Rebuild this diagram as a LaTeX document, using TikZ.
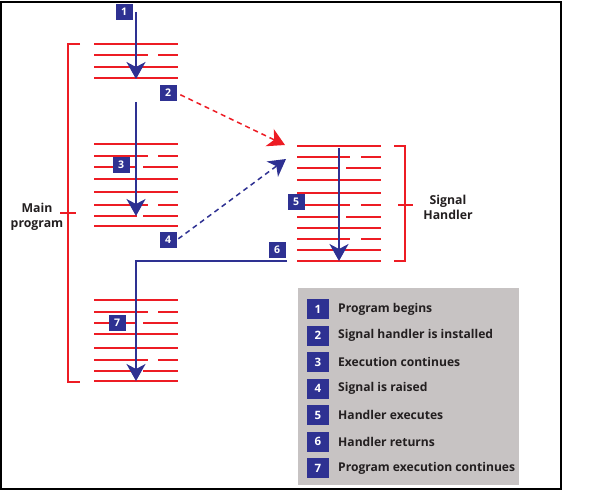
\documentclass[tikz,border=0pt]{standalone}
\usepackage{fontspec}
\setmainfont{Open Sans}
\usetikzlibrary{arrows.meta}
\definecolor{sigred}{HTML}{ED1C24}
\definecolor{sigblue}{HTML}{2E3192}
\definecolor{keygray}{HTML}{C7C3C3}
\definecolor{keyink}{HTML}{231F20}
\tikzset{
	num/.style={fill=sigblue,text=white,font=\bfseries\fontsize{10.5}{10}\selectfont,minimum width=17pt,minimum height=16pt,inner sep=0pt},
	keynum/.style={num,minimum width=22pt,minimum height=20pt,font=\bfseries\fontsize{11.5}{11}\selectfont},
	keytext/.style={anchor=west,inner sep=0pt,text=keyink,font=\bfseries\fontsize{12.1}{12}\selectfont},
	side/.style={align=center,text=keyink,font=\bfseries\fontsize{12.3}{15}\selectfont},
	codeline/.style={sigred,line width=2pt},
	flow/.style={sigblue,line width=1.5pt,-{Stealth[length=17pt,width=19pt,inset=5pt]}},
	signal/.style={flow,dash pattern=on 5pt off 4pt}
}
\begin{document}
\begin{tikzpicture}[x=1pt,y=-1pt]
	\useasboundingbox (0,0) rectangle (615,492);
	\draw[line width=1.5pt] (1,2) rectangle (561,489);

	\foreach \y in {44,67,78,144,179,192,226,300,334,348,381}
		\draw[codeline] (94,\y) -- (178,\y);
	\foreach \y in {55,156,205,312,360}
		\draw[codeline] (94,\y) -- (148,\y) (158,\y) -- (178,\y);
	\foreach \y in {167,216,323,371}
		\draw[codeline] (94,\y) -- (137,\y) (143,\y) -- (178,\y);
	\foreach \y in {146,180,193,228,250,261}
		\draw[codeline] (297,\y) -- (381,\y);
	\foreach \y in {157,205,239}
		\draw[codeline] (297,\y) -- (350,\y) (361,\y) -- (381,\y);
	\foreach \y in {168,217}
		\draw[codeline] (297,\y) -- (339,\y) (346,\y) -- (381,\y);

	\draw[codeline] (80,44) -- (68,44) -- (68,382) -- (80,382) (60,213) -- (76,213);
	\draw[codeline] (394,146) -- (405,146) -- (405,261) -- (394,261) (398,205) -- (413,205);
	\node[side] (main) at (37,217) {Main\\program};
	\node[side] (handler) at (448,207) {Signal\\Handler};

	\coordinate (start) at (136,12);
	\coordinate (mainA) at (136,79);
	\coordinate (mainB) at (136,102);
	\coordinate (mainC) at (136,216);
	\coordinate (hstart) at (339,148);
	\coordinate (hend) at (339,261);
	\coordinate (install) at (285,145);
	\coordinate (raise) at (286,159);
	\coordinate (back) at (287,261);
	\coordinate (corner) at (136,261);
	\coordinate (mainD) at (136,381);

	\draw[flow] (start) -- (mainA);
	\draw[flow] (mainB) -- (mainC);
	\draw[flow] (hstart) -- (hend);
	\draw[flow] (back) -- (corner) -- (mainD);

	\node[num] (n1) at (124,12) {1};
	\node[num] (n2) at (168,93) {2};
	\node[num] (n3) at (121,165) {3};
	\node[num] (n4) at (168,240) {4};
	\node[num] (n5) at (296,202) {5};
	\node[num] (n6) at (277,249.5) {6};
	\node[num] (n7) at (117,322.5) {7};

	\draw[signal,sigred,shorten <=4pt] (n2.east) -- (install);
	\draw[signal,shorten <=2pt] (n4.east) -- (raise);

	\fill[keygray] (298,288) rectangle (519,485);
	\foreach \i/\t in {1/Program begins,2/Signal handler is installed,3/Execution continues,4/Signal is raised,5/Handler executes,6/Handler returns,7/Program execution continues}{
		\node[keynum] (k\i) at (318,{309+26.5*(\i-1)}) {\i};
		\node[keytext] (t\i) at (338,{309+26.5*(\i-1)}) {\t};
	}
\end{tikzpicture}
\end{document}
